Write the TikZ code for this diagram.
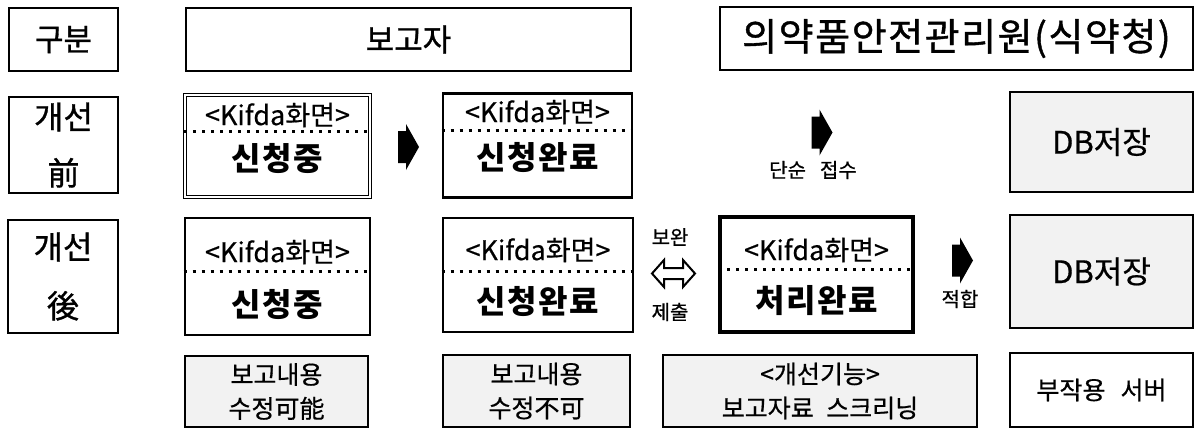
\documentclass[tikz,border=0pt]{standalone}
\usepackage{fontspec}
\setmainfont{Noto Sans CJK KR}
\usetikzlibrary{calc}
\tikzset{blockarrow/.pic={\fill (-10.5,-16) -- (-2.5,-16) -- (-2.5,-23) -- (10.5,0) -- (-2.5,23) -- (-2.5,16) -- (-10.5,16) -- cycle;}}
\begin{document}
\begin{tikzpicture}[x=0.5pt,y=-0.5pt]
	\tikzstyle{header}=[draw,line width=1pt,inner sep=0pt,font=\fontsize{15.5}{18}\selectfont\addfontfeature{FakeBold=1}]
	\tikzstyle{plain box}=[draw,line width=1pt,inner sep=0pt,align=center]
	\tikzstyle{grey box}=[draw,line width=1pt,fill=black!5,inner sep=0pt,align=center]
	\tikzstyle{screen}=[draw,line width=1.4pt,inner sep=0pt]
	\tikzstyle{screen double}=[draw,double,line width=0.7pt,double distance=0.6pt,inner sep=0pt]
	\tikzstyle{separator}=[line width=1.3pt,dash pattern=on 1.5pt off 3pt]
	\tikzstyle{scrtitle}=[inner sep=0pt,font=\fontsize{13.5}{15}\selectfont\addfontfeature{FakeBold=0.5}]
	\tikzstyle{scrstate}=[inner sep=0pt,font=\bfseries\fontsize{16}{18}\selectfont\addfontfeature{LetterSpace=5}]
	\tikzstyle{smalltext}=[inner sep=0pt,font=\fontsize{10}{12}\selectfont\addfontfeature{FakeBold=0.8}]
	\tikzstyle{notetext}=[font=\fontsize{12.5}{17}\selectfont\addfontfeature{FakeBold=0.6}]

	\useasboundingbox (0,0) rectangle (1196,428);

	% headers
	\node[header,minimum width=54.5pt,minimum height=31.5pt] (gubun) at (63.5,39.5) {구분};
	\node[header,minimum width=222.5pt,minimum height=31.5pt] (reporter) at (408.5,39.5) {보고자};
	\node[header,minimum width=236.5pt,minimum height=31.5pt,font=\fontsize{19}{22}\selectfont\addfontfeature{FakeBold=1,LetterSpace=4}] (agency) at (956.5,38.5) {의약품안전관리원(식약청)};

	% row labels
	\node[plain box,minimum width=54.5pt,minimum height=48pt,font=\fontsize{16}{28}\selectfont\addfontfeature{FakeBold=1}] (before) at (63.5,145) {개선\\前};
	\node[plain box,minimum width=55pt,minimum height=56.5pt,font=\fontsize{16}{29.5}\selectfont\addfontfeature{FakeBold=1}] (after) at (63,276.5) {개선\\後};

	% before
	\node[screen double,minimum width=92.5pt,minimum height=51pt] (req1) at (277.5,146) {};
	\node[scrtitle] (req1t) at (277.5,115) {<Kifda화면>};
	\node[scrstate] (req1s) at (277.5,158) {신청중};
	\draw[separator] ($(req1.north west)!0.36!(req1.south west)$) -- ($(req1.north east)!0.36!(req1.south east)$);

	\node[screen,minimum width=94.5pt,minimum height=52pt] (done1) at (537.5,145.5) {};
	\node[scrtitle] (done1t) at (537.5,112) {<Kifda화면>};
	\node[scrstate] (done1s) at (537.5,157) {신청완료};
	\draw[separator] ($(done1.north west)!0.36!(done1.south west)$) -- ($(done1.north east)!0.36!(done1.south east)$);

	\node[grey box,minimum width=91.5pt,minimum height=50pt,font=\fontsize{15.5}{18}\selectfont\addfontfeature{FakeBold=0.6}] (db1) at (1101.5,142) {DB저장};

	\pic (arrow1) at (408.5,147) {blockarrow};
	\pic (arrow2) at (822,132.5) {blockarrow};
	\node[smalltext] (simple) at (813,170) {단순\hspace{0.7em}접수};

	% after
	\node[screen,minimum width=92.5pt,minimum height=58.5pt] (req2) at (277.5,276.5) {};
	\node[scrtitle] (req2t) at (277.5,252) {<Kifda화면>};
	\node[scrstate] (req2s) at (277.5,304) {신청중};
	\draw[separator] ($(req2.north west)!0.46!(req2.south west)$) -- ($(req2.north east)!0.46!(req2.south east)$);

	\node[screen,minimum width=95pt,minimum height=57pt] (done2) at (538,275) {};
	\node[scrtitle] (done2t) at (538,250) {<Kifda화면>};
	\node[scrstate] (done2s) at (538,301) {신청완료};
	\draw[separator] ($(done2.north west)!0.47!(done2.south west)$) -- ($(done2.north east)!0.47!(done2.south east)$);

	\node[screen,line width=1.6pt,minimum width=96.5pt,minimum height=57.5pt] (proc) at (816.5,274.5) {};
	\node[scrtitle] (proct) at (816.5,250) {<Kifda화면>};
	\node[scrstate] (procs) at (816.5,301) {처리완료};
	\draw[separator] ($(proc.north west)!0.46!(proc.south west)$) -- ($(proc.north east)!0.46!(proc.south east)$);

	\node[grey box,minimum width=91.5pt,minimum height=56.5pt,font=\fontsize{15.5}{18}\selectfont\addfontfeature{FakeBold=0.6}] (db2) at (1101.5,271.5) {DB저장};

	\node[smalltext] (fix) at (670,237) {보완};
	\coordinate (swap) at (673.5,273.5);
	\draw[line width=1pt] ($(swap)+(-21.5,0)$) -- ++(12,-13.5) -- ++(0,8) -- ++(19,0) -- ++(0,-8) -- ++(12,13.5) -- ++(-12,13.5) -- ++(0,-8) -- ++(-19,0) -- ++(0,8) -- cycle;
	\node[smalltext] (submit) at (670,312) {제출};

	\pic (arrow3) at (962.5,260.5) {blockarrow};
	\node[smalltext] (accept) at (960,299) {적합};

	% notes
	\node[grey box,minimum width=91.5pt,minimum height=35.5pt,notetext] (edit1) at (276.5,391.5) {보고내용\\수정可能};
	\node[grey box,minimum width=93.5pt,minimum height=36pt,notetext] (edit2) at (536.5,391) {보고내용\\수정不可};
	\node[grey box,minimum width=157pt,minimum height=36pt,notetext] (screening) at (820,391) {<개선기능>\\보고자료\hspace{0.5em}스크리닝};
	\node[plain box,minimum width=91.5pt,minimum height=37pt,notetext] (server) at (1101.5,390) {부작용\hspace{0.6em}서버};
\end{tikzpicture}
\end{document}
